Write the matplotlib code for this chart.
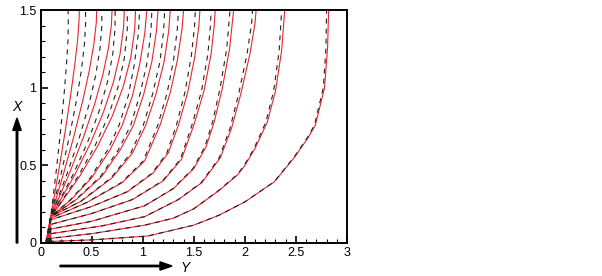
import matplotlib
matplotlib.use("Agg")
import matplotlib.pyplot as plt
from matplotlib.ticker import MultipleLocator
from matplotlib.patches import FancyArrow

plt.rcParams['font.family'] = ['Liberation Sans', 'DejaVu Sans']

# Start positions (Y at X=0) of each curve inside the source blob
start_y = [0.050, 0.054, 0.058, 0.062, 0.066, 0.070, 0.074, 0.078, 0.082, 0.086, 0.090, 0.094, 0.098, 0.100, 0.100]

# Red solid curves: (Y, X) points
red_curves = [
    [(0.10,0.17),(0.178,0.465),(0.243,0.727),(0.295,0.954),(0.335,1.148),(0.363,1.308),(0.377,1.435),(0.38,1.5)],
    [(0.10,0.17),(0.225,0.447),(0.33,0.697),(0.414,0.92),(0.478,1.114),(0.522,1.282),(0.546,1.422),(0.55,1.5)],
    [(0.10,0.17),(0.13,0.214),(0.288,0.458),(0.421,0.684),(0.528,0.892),(0.609,1.082),(0.664,1.254),(0.694,1.408),(0.70,1.5)],
    [(0.10,0.17),(0.15,0.225),(0.336,0.441),(0.492,0.648),(0.617,0.846),(0.713,1.036),(0.778,1.217),(0.813,1.39),(0.82,1.5)],
    [(0.10,0.17),(0.175,0.235),(0.385,0.432),(0.56,0.626),(0.702,0.818),(0.809,1.007),(0.883,1.194),(0.922,1.378),(0.93,1.5)],
    [(0.10,0.17),(0.30,0.28),(0.50,0.42),(0.68,0.60),(0.80,0.76),(0.90,0.95),(0.97,1.15),(1.02,1.35),(1.04,1.5)],
    [(0.10,0.17),(0.35,0.28),(0.60,0.43),(0.78,0.60),(0.91,0.76),(1.01,0.96),(1.09,1.17),(1.135,1.37),(1.15,1.5)],
    [(0.10,0.17),(0.40,0.27),(0.70,0.42),(0.90,0.58),(1.03,0.76),(1.13,0.96),(1.21,1.17),(1.255,1.37),(1.27,1.5)],
    [(0.10,0.16),(0.45,0.26),(0.80,0.39),(1.02,0.53),(1.17,0.76),(1.27,0.97),(1.34,1.18),(1.385,1.38),(1.40,1.5)],
    [(0.10,0.15),(0.50,0.235),(0.85,0.33),(1.10,0.45),(1.25,0.58),(1.35,0.76),(1.44,0.97),(1.51,1.20),(1.55,1.40),(1.56,1.5)],
    [(0.10,0.12),(0.50,0.19),(0.90,0.28),(1.20,0.40),(1.38,0.54),(1.50,0.76),(1.60,0.98),(1.67,1.22),(1.70,1.40),(1.71,1.5)],
    [(0.10,0.09),(0.50,0.14),(1.02,0.24),(1.30,0.35),(1.50,0.48),(1.62,0.62),(1.70,0.78),(1.78,1.00),(1.85,1.25),(1.89,1.5)],
    [(0.10,0.06),(0.60,0.11),(1.02,0.17),(1.35,0.28),(1.58,0.39),(1.76,0.55),(1.87,0.74),(1.96,0.96),(2.05,1.22),(2.10,1.42),(2.11,1.5)],
    [(0.10,0.03),(0.50,0.06),(1.02,0.115),(1.30,0.16),(1.50,0.22),(1.75,0.34),(1.93,0.44),(2.00,0.50),(2.10,0.61),(2.22,0.78),(2.30,0.98),(2.36,1.24),(2.39,1.5)],
    [(0.10,0.01),(0.50,0.02),(1.05,0.045),(1.50,0.115),(1.75,0.18),(2.00,0.265),(2.29,0.395),(2.49,0.556),(2.62,0.68),(2.69,0.76),(2.78,1.0),(2.81,1.26),(2.82,1.5)],
]

# Black dashed curves: (Y, X) points
black_curves = [
    [(0.10,0.17),(0.154,0.465),(0.197,0.727),(0.23,0.954),(0.254,1.148),(0.269,1.308),(0.272,1.435),(0.27,1.5)],
    [(0.10,0.17),(0.202,0.447),(0.286,0.697),(0.352,0.92),(0.40,1.114),(0.43,1.282),(0.442,1.422),(0.44,1.5)],
    [(0.10,0.17),(0.127,0.214),(0.266,0.458),(0.382,0.684),(0.474,0.892),(0.54,1.082),(0.582,1.254),(0.601,1.408),(0.60,1.5)],
    [(0.10,0.17),(0.146,0.225),(0.318,0.441),(0.46,0.648),(0.571,0.846),(0.654,1.036),(0.707,1.217),(0.73,1.39),(0.73,1.5)],
    [(0.10,0.17),(0.171,0.235),(0.369,0.432),(0.533,0.626),(0.663,0.818),(0.759,1.007),(0.821,1.194),(0.849,1.378),(0.85,1.5)],
    [(0.10,0.17),(0.294,0.28),(0.487,0.42),(0.657,0.60),(0.769,0.76),(0.859,0.95),(0.918,1.15),(0.958,1.35),(0.97,1.5)],
    [(0.10,0.17),(0.345,0.28),(0.588,0.43),(0.761,0.60),(0.883,0.76),(0.974,0.96),(1.045,1.17),(1.081,1.37),(1.09,1.5)],
    [(0.10,0.17),(0.396,0.27),(0.69,0.42),(0.883,0.58),(1.006,0.76),(1.097,0.96),(1.169,1.17),(1.205,1.37),(1.215,1.5)],
    [(0.10,0.16),(0.447,0.26),(0.792,0.39),(1.006,0.53),(1.148,0.76),(1.24,0.97),(1.302,1.18),(1.339,1.38),(1.35,1.5)],
    [(0.10,0.15),(0.498,0.235),(0.845,0.33),(1.091,0.45),(1.236,0.58),(1.33,0.76),(1.413,0.97),(1.475,1.20),(1.508,1.40),(1.515,1.5)],
    [(0.10,0.12),(0.50,0.19),(0.897,0.28),(1.193,0.40),(1.369,0.54),(1.482,0.76),(1.576,0.98),(1.638,1.22),(1.663,1.40),(1.67,1.5)],
    [(0.10,0.09),(0.50,0.14),(1.018,0.24),(1.295,0.35),(1.492,0.48),(1.608,0.62),(1.684,0.78),(1.758,1.00),(1.822,1.25),(1.855,1.5)],
    [(0.10,0.06),(0.60,0.11),(1.02,0.17),(1.347,0.28),(1.574,0.39),(1.75,0.55),(1.855,0.74),(1.939,0.96),(2.022,1.22),(2.067,1.42),(2.075,1.5)],
    [(0.10,0.03),(0.50,0.06),(1.02,0.115),(1.30,0.16),(1.499,0.22),(1.746,0.34),(1.924,0.44),(1.993,0.50),(2.09,0.61),(2.206,0.78),(2.282,0.98),(2.336,1.24),(2.36,1.5)],
    [(0.10,0.01),(0.50,0.02),(1.05,0.045),(1.50,0.115),(1.75,0.18),(1.999,0.265),(2.287,0.395),(2.484,0.556),(2.612,0.68),(2.681,0.76),(2.768,1.0),(2.794,1.26),(2.80,1.5)],
]

x_ticks = [0, 0.5, 1, 1.5, 2, 2.5, 3]
x_tick_labels = ['0', '0.5', '1', '1.5', '2', '2.5', '3']
y_ticks = [0, 0.5, 1, 1.5]
y_tick_labels = ['0', '0.5', '1', '1.5']

fig = plt.figure(figsize=(6.02, 2.76), dpi=100)
ax = fig.add_axes([0.0673, 0.1196, 0.5091, 0.8424])

for y0, c in zip(start_y, red_curves):
    ax.plot([y0] + [p[0] for p in c], [0.0] + [p[1] for p in c], color='#e8262e', lw=0.8)
for y0, c in zip(start_y, black_curves):
    ax.plot([y0] + [p[0] for p in c], [0.0] + [p[1] for p in c], color='#222222', lw=0.8, dashes=(4.5, 4.5))

ax.set_xlim(0, 3)
ax.set_ylim(0, 1.5)
ax.set_xticks(x_ticks)
ax.set_xticklabels(x_tick_labels)
ax.set_yticks(y_ticks)
ax.set_yticklabels(y_tick_labels)
ax.xaxis.set_minor_locator(MultipleLocator(0.1))
ax.yaxis.set_minor_locator(MultipleLocator(0.1))
ax.tick_params(which='both', direction='in', top=False, right=False, labelsize=9, pad=3)
ax.tick_params(which='major', length=5, width=1.2)
ax.tick_params(which='minor', length=3, width=0.8)
for s in ax.spines.values():
    s.set_linewidth(1.4)

# axis direction arrows and labels
fig.patches.append(FancyArrow(17/602, 1-243/276, 0, (243-118)/276, width=0.0025,
                              head_width=0.014, head_length=0.045,
                              transform=fig.transFigure, color='black',
                              length_includes_head=True))
fig.text(17/602, 1-107/276, 'X', ha='center', va='center', fontsize=10, style='italic')
fig.patches.append(FancyArrow(60/602, 1-266/276, (172-60)/602, 0, width=0.005,
                              head_width=0.03, head_length=0.02,
                              transform=fig.transFigure, color='black',
                              length_includes_head=True))
fig.text(185/602, 1-268/276, 'Y', ha='center', va='center', fontsize=10, style='italic')

fig.savefig('out.png', dpi=100)
